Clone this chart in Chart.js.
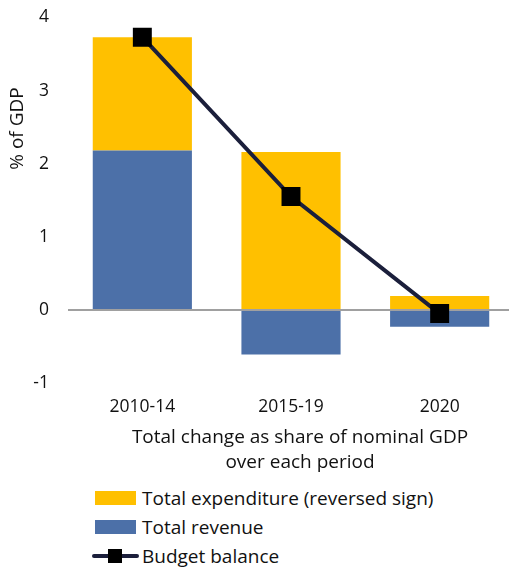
<!DOCTYPE html>
<html>
<head>
<meta charset="utf-8">
<script src="https://cdn.jsdelivr.net/npm/chart.js@4"></script>
<style>
  html, body { margin: 0; padding: 0; background: #fff; overflow: hidden; }
  #wrap { position: relative; width: 509px; height: 567px; overflow: hidden; }
  #cv { position: absolute; left: 0; top: -12px; }
  #legend { position: absolute; left: 92px; top: 483px; font-family: "Open Sans", sans-serif; font-size: 19px; color: #111; }
  .item { height: 29px; display: flex; align-items: center; }
  .box { width: 41px; height: 14px; margin-left: 3px; margin-right: 6px; }
  .lineKey { position: relative; width: 47px; height: 14px; margin-right: 3px; }
  .lineKey .ln { position: absolute; left: 0; top: 5px; width: 47px; height: 4px; background: #1B1F3B; border-radius: 2px; }
  .lineKey .sq { position: absolute; left: 16px; top: 0; width: 14px; height: 14px; background: #000; }
</style>
</head>
<body>
<div id="wrap">
  <canvas id="cv" width="514" height="489" style="width:514px;height:489px"></canvas>
  <div id="legend"></div>
</div>
<script>
const categories = ['2010-14', '2015-19', '2020'];
const expenditure = [1.55, 2.16, 0.19];
const revenue = [2.18, -0.61, -0.23];
const balance = [3.73, 1.55, -0.05];
const yTicks = [-1, 0, 1, 2, 3, 4];

const seriesNames = ['Total expenditure (reversed sign)', 'Total revenue', 'Budget balance'];
const xTitle = ['Total change as share of nominal GDP', 'over each period'];
const yTitle = '% of GDP';
const colors = { exp: '#FFC000', rev: '#4C70A8', line: '#1B1F3B', marker: '#000000' };

const FONT = '"Open Sans", sans-serif';

// Draws the axis titles at the reference's (slightly off-centre) positions
const axisTitles = {
  id: 'axisTitles',
  afterDraw(chart) {
    const ctx = chart.ctx;
    ctx.save();
    ctx.fillStyle = '#111';
    ctx.font = '19px ' + FONT;
    ctx.textAlign = 'center';
    ctx.textBaseline = 'middle';
    const xs = chart.scales.x;
    const cx = (xs.left + xs.right) / 2 + 9;
    xTitle.forEach((line, i) => ctx.fillText(line, cx, xs.top + 55 + i * 25));
    ctx.translate(18, chart.chartArea.top + 111);
    ctx.rotate(-Math.PI / 2);
    ctx.fillText(yTitle, 0, 0);
    ctx.restore();
  }
};

const chart = new Chart(document.getElementById('cv'), {
  data: {
    labels: categories,
    datasets: [
      { type: 'line', label: seriesNames[2], data: balance, stack: 'line', order: 0,
        borderColor: colors.line, borderWidth: 4, pointStyle: 'rect', pointRadius: 13.4,
        pointBackgroundColor: colors.marker, pointBorderColor: colors.marker, pointBorderWidth: 0,
        pointHoverRadius: 13.4, fill: false, tension: 0 },
      { type: 'bar', label: seriesNames[1], data: revenue, stack: 'bars', order: 1,
        backgroundColor: colors.rev, categoryPercentage: 1, barPercentage: 0.667 },
      { type: 'bar', label: seriesNames[0], data: expenditure, stack: 'bars', order: 2,
        backgroundColor: colors.exp, categoryPercentage: 1, barPercentage: 0.667 }
    ]
  },
  options: {
    responsive: false,
    animation: false,
    layout: { autoPadding: false, padding: { top: 4, right: 0, bottom: 0, left: 0 } },
    plugins: { legend: { display: false }, tooltip: { enabled: false } },
    scales: {
      x: {
        stacked: true,
        afterFit: (s) => { s.height = 94; },
        grid: { display: false, drawTicks: false },
        border: { display: false },
        ticks: { color: '#111', font: { family: FONT, size: 17.5 }, padding: 14 },
        title: { display: false }
      },
      y: {
        stacked: true,
        min: -1, max: 4,
        afterBuildTicks: (s) => { s.ticks = yTicks.map(v => ({ value: v })); },
        afterFit: (s) => { s.width = 68; },
        grid: {
          drawTicks: false,
          color: (ctx) => (ctx.tick && ctx.tick.value === 0) ? '#A0A0A0' : 'rgba(0,0,0,0)',
          lineWidth: 2
        },
        border: { display: false },
        ticks: { color: '#111', font: { family: FONT, size: 17.5 }, padding: 19 },
        title: { display: false }
      }
    }
  },
  plugins: [axisTitles]
});

// HTML legend built from the chart's datasets
const legend = document.getElementById('legend');
[2, 1, 0].forEach(i => {
  const ds = chart.data.datasets[i];
  const item = document.createElement('div');
  item.className = 'item';
  if (ds.type === 'bar') {
    const b = document.createElement('div');
    b.className = 'box';
    b.style.background = ds.backgroundColor;
    item.appendChild(b);
  } else {
    const k = document.createElement('div');
    k.className = 'lineKey';
    k.innerHTML = '<div class="ln"></div><div class="sq"></div>';
    item.appendChild(k);
  }
  const t = document.createElement('span');
  t.textContent = ds.label;
  item.appendChild(t);
  legend.appendChild(item);
});
</script>
</body>
</html>
